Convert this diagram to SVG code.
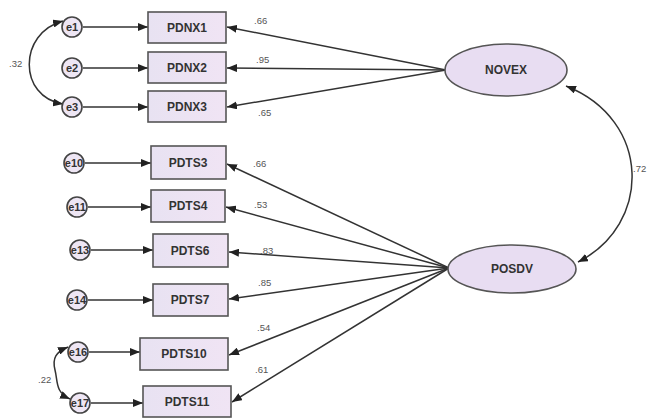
<svg xmlns="http://www.w3.org/2000/svg" width="647" height="419" viewBox="0 0 647 419">
<style>
.box{fill:url(#g);stroke:#555;stroke-width:1.6}
.err{fill:#eee6f4;stroke:#444;stroke-width:1.6}
.lat{fill:#e8ddf2;stroke:#555;stroke-width:1.6}
.t{font-family:"Liberation Sans",Arial,sans-serif;font-size:12px;fill:#333;text-anchor:middle;dominant-baseline:central;font-weight:bold}
.te{font-family:"Liberation Sans",Arial,sans-serif;font-size:11px;fill:#333;text-anchor:middle;dominant-baseline:central;font-weight:bold}
.n{font-family:"Liberation Sans",Arial,sans-serif;font-size:9.5px;fill:#555}
.c{fill:none;stroke:#333;stroke-width:1.5}
</style>
<defs>
<linearGradient id="g" x1="0" y1="0" x2="1" y2="0"><stop offset="0" stop-color="#e8e2f2"/><stop offset="1" stop-color="#f0e4f4"/></linearGradient>
<marker id="a" viewBox="0 0 10 8" refX="10" refY="4" markerWidth="10" markerHeight="8" markerUnits="userSpaceOnUse" orient="auto-start-reverse"><path d="M0,0 L10,4 L0,8 Z" fill="#222"/></marker>
</defs>
<rect width="647" height="419" fill="#fff"/>
<g id="connectors">
<line class="c" x1="446" y1="70" x2="227" y2="27" marker-end="url(#a)"/>
<line class="c" x1="446" y1="70" x2="227" y2="68" marker-end="url(#a)"/>
<line class="c" x1="446" y1="70" x2="227" y2="107" marker-end="url(#a)"/>
<line class="c" x1="449" y1="268" x2="227" y2="164" marker-end="url(#a)"/>
<line class="c" x1="449" y1="268" x2="226" y2="207" marker-end="url(#a)"/>
<line class="c" x1="449" y1="268" x2="229" y2="252" marker-end="url(#a)"/>
<line class="c" x1="449" y1="268" x2="229" y2="299" marker-end="url(#a)"/>
<line class="c" x1="449" y1="268" x2="229" y2="355" marker-end="url(#a)"/>
<line class="c" x1="449" y1="268" x2="232" y2="402" marker-end="url(#a)"/>
<line class="c" x1="83" y1="27" x2="148" y2="27" marker-end="url(#a)"/>
<line class="c" x1="83" y1="68" x2="148" y2="68" marker-end="url(#a)"/>
<line class="c" x1="83" y1="107" x2="148" y2="107" marker-end="url(#a)"/>
<line class="c" x1="85" y1="163" x2="151" y2="163" marker-end="url(#a)"/>
<line class="c" x1="88" y1="207" x2="151" y2="207" marker-end="url(#a)"/>
<line class="c" x1="91" y1="250" x2="153" y2="250" marker-end="url(#a)"/>
<line class="c" x1="88" y1="300" x2="153" y2="300" marker-end="url(#a)"/>
<line class="c" x1="89" y1="352" x2="140" y2="352" marker-end="url(#a)"/>
<line class="c" x1="91" y1="403" x2="143" y2="403" marker-end="url(#a)"/>
<path class="c" d="M63,21 C18,33 18,97 63,104" marker-start="url(#a)" marker-end="url(#a)"/>
<path class="c" d="M68,347 C56,352 52,358 55,370 C58,382 55,392 70,399" marker-start="url(#a)" marker-end="url(#a)"/>
<path class="c" d="M566,86 C652,120 652,225 578,262" marker-start="url(#a)" marker-end="url(#a)"/>
</g>
<g id="labels">
<text class="n" x="254" y="24">.66</text>
<text class="n" x="256" y="63">.95</text>
<text class="n" x="258" y="116">.65</text>
<text class="n" x="253" y="167">.66</text>
<text class="n" x="254" y="208">.53</text>
<text class="n" x="260" y="254">.83</text>
<text class="n" x="258" y="286">.85</text>
<text class="n" x="257" y="331">.54</text>
<text class="n" x="255" y="373">.61</text>
<text class="n" x="9" y="67">.32</text>
<text class="n" x="38" y="383">.22</text>
<text class="n" x="633" y="172">.72</text>
</g>
<g id="e1"><circle class="err" cx="72" cy="27" r="10"/><text class="te" x="72" y="27">e1</text></g>
<g id="e2"><circle class="err" cx="72" cy="68" r="10"/><text class="te" x="72" y="68">e2</text></g>
<g id="e3"><circle class="err" cx="72" cy="107" r="10"/><text class="te" x="72" y="107">e3</text></g>
<g id="e10"><circle class="err" cx="74" cy="163" r="10"/><text class="te" x="74" y="163">e10</text></g>
<g id="e11"><circle class="err" cx="77" cy="207" r="10"/><text class="te" x="77" y="207">e11</text></g>
<g id="e13"><circle class="err" cx="80" cy="250" r="10"/><text class="te" x="80" y="250">e13</text></g>
<g id="e14"><circle class="err" cx="77" cy="300" r="10"/><text class="te" x="77" y="300">e14</text></g>
<g id="e16"><circle class="err" cx="78" cy="352" r="10"/><text class="te" x="78" y="352">e16</text></g>
<g id="e17"><circle class="err" cx="80" cy="403" r="10"/><text class="te" x="80" y="403">e17</text></g>
<g id="PDNX1"><rect class="box" x="148" y="12" width="78" height="31"/><text class="t" x="187" y="28">PDNX1</text></g>
<g id="PDNX2"><rect class="box" x="148" y="52" width="78" height="31"/><text class="t" x="187" y="68">PDNX2</text></g>
<g id="PDNX3"><rect class="box" x="148" y="91" width="78" height="31"/><text class="t" x="187" y="107">PDNX3</text></g>
<g id="PDTS3"><rect class="box" x="151" y="146" width="75" height="33"/><text class="t" x="188" y="163">PDTS3</text></g>
<g id="PDTS4"><rect class="box" x="151" y="190" width="74" height="32"/><text class="t" x="188" y="206">PDTS4</text></g>
<g id="PDTS6"><rect class="box" x="153" y="234" width="75" height="33"/><text class="t" x="190" y="251">PDTS6</text></g>
<g id="PDTS7"><rect class="box" x="153" y="284" width="75" height="32"/><text class="t" x="190" y="300">PDTS7</text></g>
<g id="PDTS10"><rect class="box" x="140" y="338" width="88" height="32"/><text class="t" x="184" y="354">PDTS10</text></g>
<g id="PDTS11"><rect class="box" x="143" y="386" width="88" height="31"/><text class="t" x="187" y="402">PDTS11</text></g>
<g id="NOVEX"><ellipse class="lat" cx="506" cy="70" rx="61" ry="26"/><text class="t" x="506" y="70">NOVEX</text></g>
<g id="POSDV"><ellipse class="lat" cx="512" cy="269" rx="64" ry="24"/><text class="t" x="512" y="269">POSDV</text></g>
</svg>
